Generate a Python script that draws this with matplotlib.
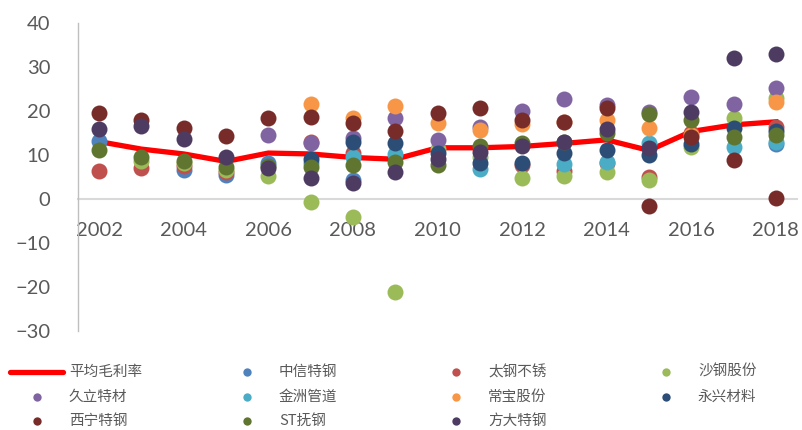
import numpy as np
import matplotlib
matplotlib.use("Agg")
import matplotlib.pyplot as plt
from matplotlib.lines import Line2D

nan = np.nan

years = list(range(2002, 2019))
avg_margin = [13.0, 11.3, 10.2, 8.5, 10.4, 10.2, 9.4, 9.0, 11.6, 11.6,
              11.9, 12.6, 13.4, 11.0, 15.3, 16.8, 17.5]

companies = ['中信特钢', '太钢不锈', '沙钢股份', '久立特材', '金洲管道',
             '常宝股份', '永兴材料', '西宁特钢', 'ST抚钢', '方大特钢']
colors = ['#4F81BD', '#C0504D', '#9BBB59', '#8064A2', '#4BACC6',
          '#F79646', '#2C4D75', '#772C2A', '#5F7530', '#4D3B62']

zxtg = [13.2, nan, 6.6, 5.4, 8.2, nan, 4.3, nan, nan, nan,
        nan, nan, nan, nan, nan, nan, 12.5]
tgbx = [6.3, 7.0, 7.5, 6.0, nan, 13.0, 10.4, nan, nan, nan,
        7.7, 6.4, 8.1, 4.9, 15.0, nan, 16.4]
sggf = [nan, 8.7, 8.2, 6.6, 5.2, -0.8, -4.2, -21.2, 11.3, 9.6,
        4.7, 5.1, 6.2, 4.3, 11.7, 18.3, 22.8]
jltc = [nan, nan, nan, nan, 14.4, 12.6, 13.8, 18.4, 13.4, 16.4,
        20.0, 22.6, 21.3, 19.8, 23.2, 21.5, 25.1]
jzgd = [nan, nan, nan, nan, nan, 8.2, 9.6, 10.2, nan, 6.7,
        nan, 7.9, 8.3, 12.6, nan, 11.7, 12.8]
cbgf = [nan, nan, nan, nan, nan, 21.5, 18.3, 21.1, 17.2, 15.7,
        17.0, 17.5, 17.8, 16.2, 14.5, nan, 22.1]
yxcl = [nan, nan, nan, nan, nan, 9.0, 13.0, 12.6, 10.4, 8.1,
        8.2, 10.5, 11.0, 10.0, 12.5, 16.0, 15.3]
xntg = [19.4, 17.9, 16.2, 14.3, 18.3, 18.5, 17.3, 15.3, 19.6, 20.7,
        17.9, 17.4, 20.6, -1.7, 14.0, 8.8, 0.2]
stfg = [11.1, 9.6, 8.7, 7.3, 7.5, 7.3, 7.7, 8.3, 7.6, 12.1,
        12.6, 13.0, 15.0, 19.2, 17.8, 14.1, 14.5]
fdtg = [15.9, 16.6, 13.6, 9.6, 7.1, 4.7, 3.6, 6.0, 9.0, 10.7,
        12.1, 12.9, 15.8, 11.5, 19.7, 32.0, 32.9]

series = [zxtg, tgbx, sggf, jltc, jzgd, cbgf, yxcl, xntg, stfg, fdtg]
xticks = list(range(2002, 2019, 2))

cjk = ['Noto Sans CJK SC', 'DejaVu Sans']
grey = '#595959'

fig = plt.figure(figsize=(8.03, 4.30), dpi=100)
ax = fig.add_axes([78 / 803, 1 - 331 / 430, (797 - 78) / 803, (331 - 22.7) / 430])

for name, vals, c in zip(companies, series, colors):
    ax.plot(years, vals, 'o', color=c, markersize=11.5, markeredgewidth=0,
            label=name, zorder=3)
ax.plot(years, avg_margin, color='#FF0000', linewidth=3.8, label='平均毛利率',
        zorder=2, solid_joinstyle='miter')

ax.set_xlim(2001.5, 2018.5)
ax.set_ylim(-30, 40)
ax.set_yticks([-30, -20, -10, 0, 10, 20, 30, 40])
ax.set_xticks(xticks)

for s in ['top', 'right']:
    ax.spines[s].set_visible(False)
ax.spines['left'].set_color('#BFBFBF')
ax.spines['left'].set_linewidth(1.0)
ax.spines['bottom'].set_position(('data', 0))
ax.spines['bottom'].set_color('#D9D9D9')
ax.spines['bottom'].set_linewidth(1.5)
ax.spines['bottom'].set_zorder(1)

ax.tick_params(axis='y', length=0, pad=20, labelsize=14.5, labelcolor=grey)
ax.tick_params(axis='x', length=0, pad=17, labelsize=14.5, labelcolor=grey)
for lab in ax.get_xticklabels() + ax.get_yticklabels():
    lab.set_family('Lato')

# legend laid out like the original, row by row in 4 columns
handles, labels = ax.get_legend_handles_labels()
handles = [handles[-1]] + handles[:-1]
labels = [labels[-1]] + labels[:-1]
col_x = [10, 220, 429, 639]
row_y = [372, 397, 421]
for i, (h, lab) in enumerate(zip(handles, labels)):
    r, c = divmod(i, 4)
    x0 = col_x[c]
    y = 1 - row_y[r] / 430
    if i == 0:
        fig.add_artist(Line2D([x0 / 803, (x0 + 53) / 803], [y, y],
                              transform=fig.transFigure, color='#FF0000',
                              linewidth=3.8, solid_capstyle='round'))
    else:
        fig.add_artist(Line2D([(x0 + 27) / 803], [y], marker='o',
                              transform=fig.transFigure, linestyle='none',
                              color=h.get_color(), markersize=6,
                              markeredgewidth=0))
    fig.text((x0 + 59) / 803, y, lab, ha='left', va='center', fontsize=10.5,
             color=grey, family=cjk)

fig.savefig('out.png', dpi=100)
